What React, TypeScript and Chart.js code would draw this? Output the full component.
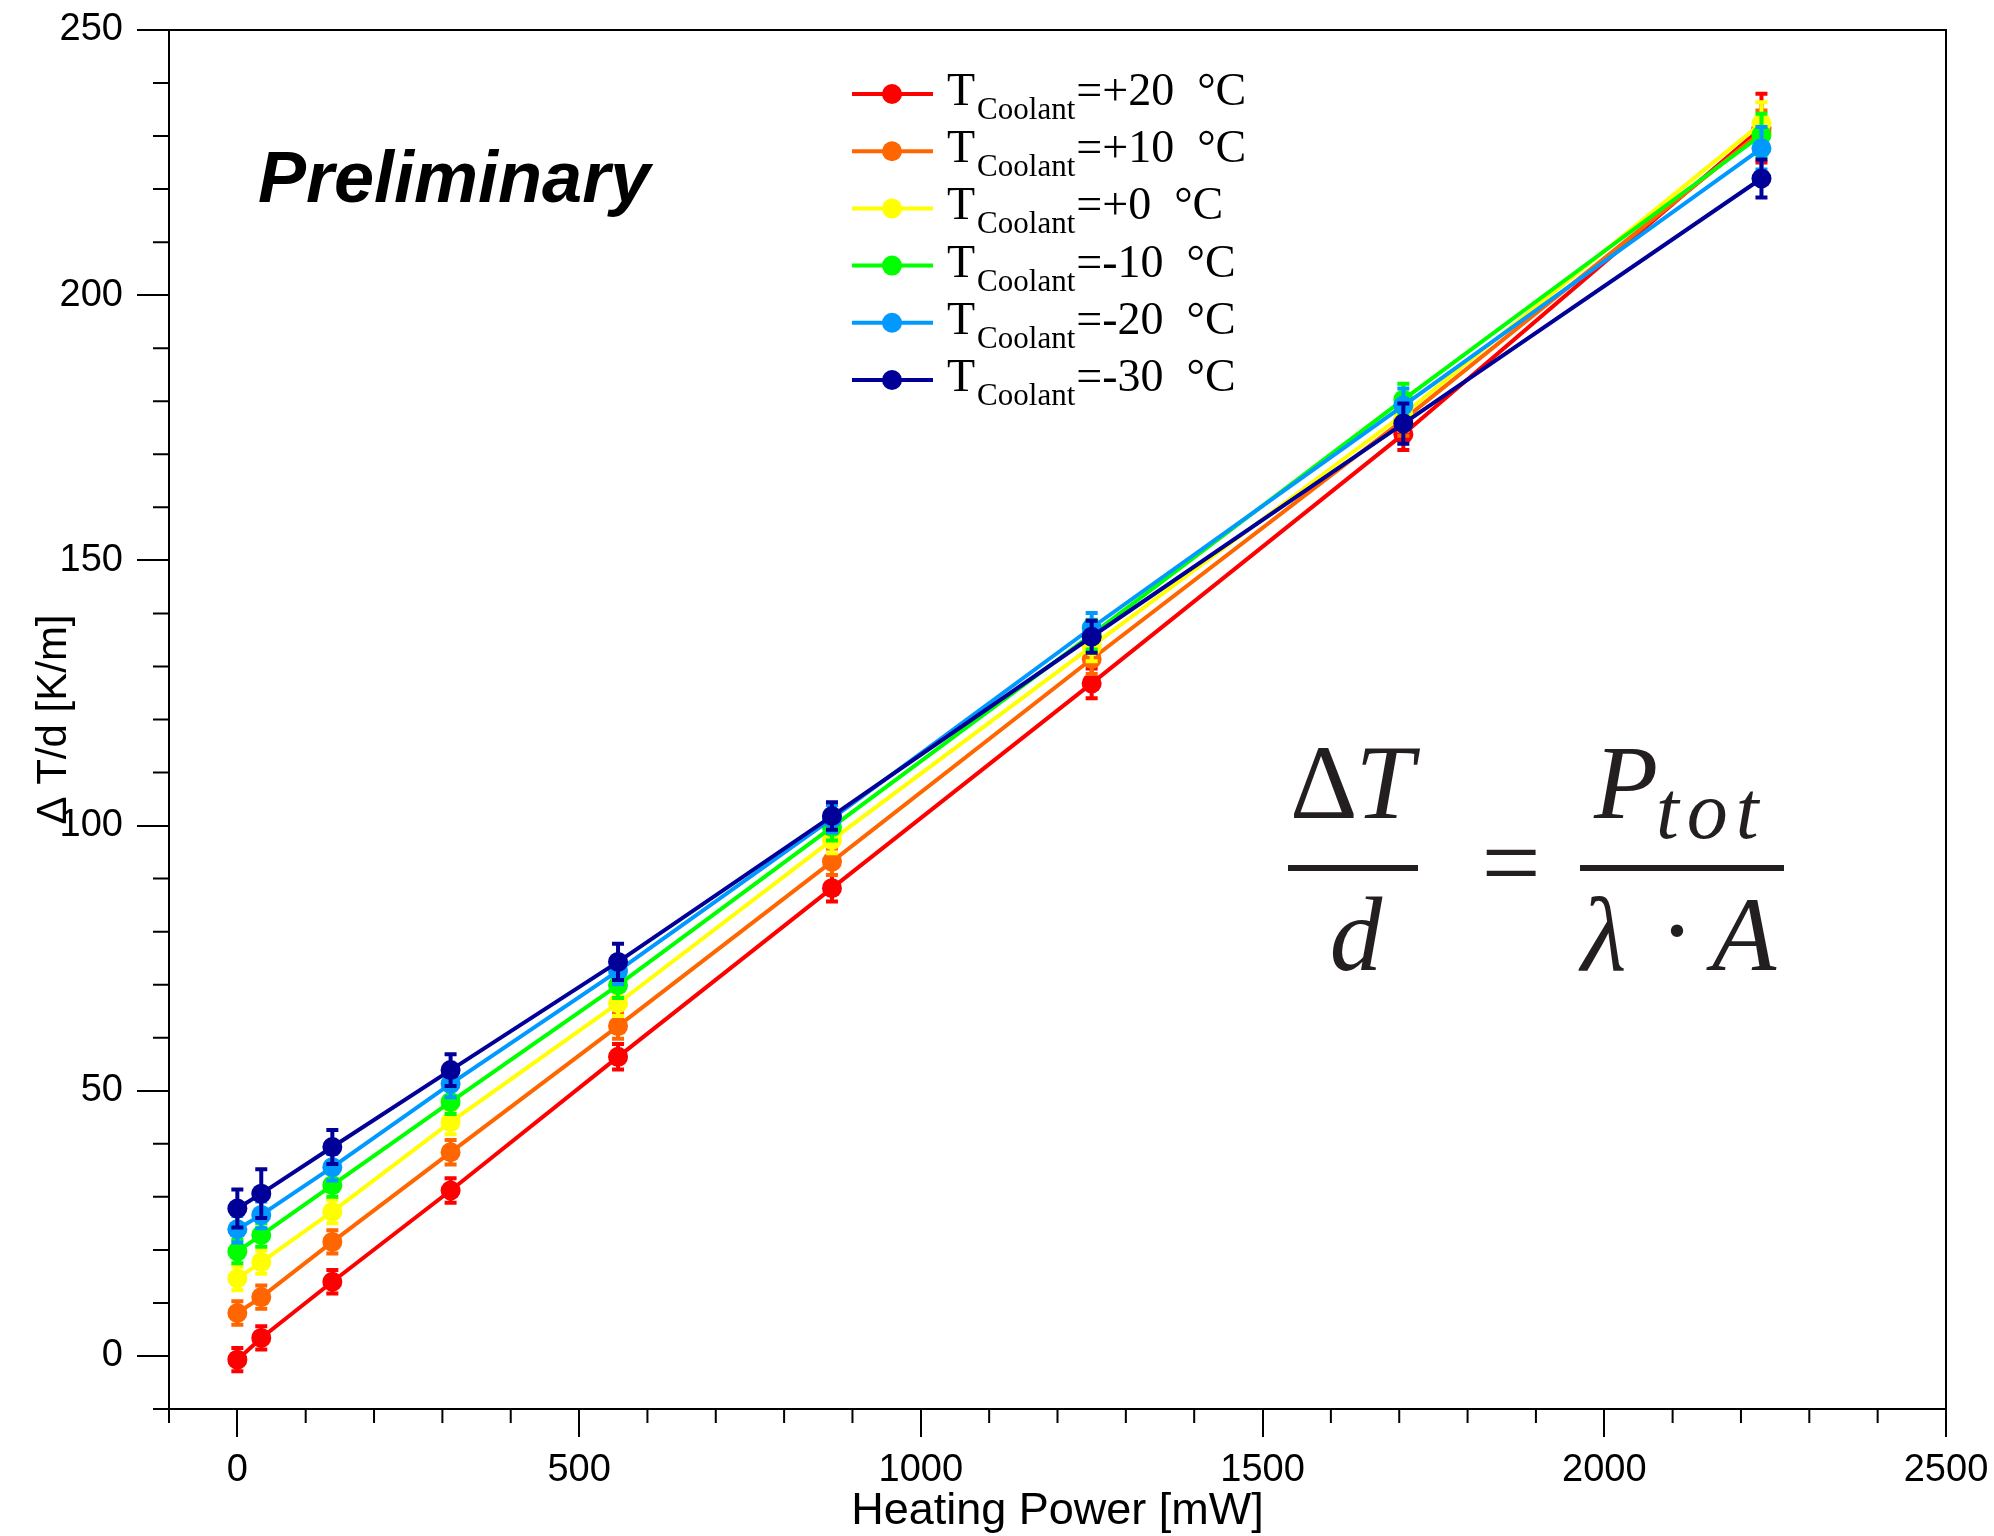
import React, { useEffect, useRef } from 'react';
import { Chart, registerables } from 'chart.js';

Chart.register(...registerables);

// ---------- data ----------
const heatingPower = [0, 35, 139, 312, 557, 870, 1250, 1706, 2230];

const coolantLabels = ['+20', '+10', '+0', '-10', '-20', '-30'];
const seriesColors = ['#ff0000', '#ff6600', '#ffff00', '#00ff00', '#0099ff', '#000099'];

const gradRed = [-0.7, 3.4, 14.0, 31.2, 56.4, 88.2, 126.8, 173.8, 231.5];
const gradOrange = [8.1, 11.1, 21.5, 38.4, 62.2, 93.2, 131.4, 176.5, 230.8];
const gradYellow = [14.6, 17.7, 27.2, 44.1, 66.5, 97.3, 133.8, 177.5, 232.4];
const gradGreen = [19.7, 22.8, 32.2, 47.9, 69.9, 99.7, 136.0, 180.3, 230.2];
const gradLightBlue = [23.9, 26.6, 35.6, 51.3, 72.6, 101.3, 137.3, 179.2, 227.7];
const gradDarkBlue = [27.8, 30.6, 39.4, 53.9, 74.3, 101.8, 135.6, 175.8, 222.0];

const errRed = [2.2, 2.2, 2.2, 2.3, 2.4, 2.5, 2.8, 3.0, 6.5];
const errOrange = [2.2, 2.2, 2.2, 2.3, 2.4, 2.5, 2.8, 3.0, 4.0];
const errYellow = [2.2, 2.2, 2.2, 2.3, 2.4, 2.5, 2.8, 3.0, 4.0];
const errGreen = [2.2, 2.2, 2.2, 2.3, 2.4, 2.5, 2.8, 3.0, 4.0];
const errLightBlue = [2.5, 2.5, 2.5, 2.5, 2.5, 2.6, 2.8, 3.2, 4.0];
const errDarkBlue = [3.6, 4.6, 3.2, 3.0, 3.4, 2.6, 3.0, 3.8, 3.6];

const seriesValues = [gradRed, gradOrange, gradYellow, gradGreen, gradLightBlue, gradDarkBlue];
const seriesErrors = [errRed, errOrange, errYellow, errGreen, errLightBlue, errDarkBlue];

const xMajorTicks = [0, 500, 1000, 1500, 2000, 2500];
const yMajorTicks = [0, 50, 100, 150, 200, 250];

const SANS = '"Liberation Sans", Arial, Helvetica, sans-serif';
const SERIF = '"Liberation Serif", "Times New Roman", serif';

// ---------- plugins ----------
const errorBarPlugin = {
  id: 'errorBars',
  afterDatasetDraw(chart: any, args: any) {
    const i = args.index;
    const errs = seriesErrors[i];
    const vals = seriesValues[i];
    if (!errs) return;
    const xs = chart.scales.x;
    const ys = chart.scales.y;
    const ctx = chart.ctx;
    ctx.save();
    ctx.strokeStyle = seriesColors[i];
    ctx.lineWidth = 4;
    heatingPower.forEach((x, k) => {
      const px = xs.getPixelForValue(x);
      const pTop = ys.getPixelForValue(vals[k] + errs[k]);
      const pBot = ys.getPixelForValue(vals[k] - errs[k]);
      ctx.beginPath();
      ctx.moveTo(px, pTop);
      ctx.lineTo(px, pBot);
      ctx.moveTo(px - 6, pTop);
      ctx.lineTo(px + 6, pTop);
      ctx.moveTo(px - 6, pBot);
      ctx.lineTo(px + 6, pBot);
      ctx.stroke();
    });
    ctx.restore();
  },
};

const decorPlugin = {
  id: 'decor',
  afterDraw(chart: any) {
    const ctx = chart.ctx;
    const { left, right, top, bottom } = chart.chartArea;
    const xs = chart.scales.x;
    const ys = chart.scales.y;
    ctx.save();
    // frame
    ctx.strokeStyle = '#000';
    ctx.lineWidth = 2;
    ctx.strokeRect(left, top, right - left, bottom - top);
    // minor ticks
    ctx.beginPath();
    for (let v = -100; v <= 2500; v += 100) {
      if (v % 500 === 0) continue;
      const px = xs.getPixelForValue(v);
      ctx.moveTo(px, bottom);
      ctx.lineTo(px, bottom + 14);
    }
    for (let v = -10; v <= 250; v += 10) {
      if (v % 50 === 0) continue;
      const py = ys.getPixelForValue(v);
      ctx.moveTo(left, py);
      ctx.lineTo(left - 16, py);
    }
    ctx.stroke();

    // "Preliminary"
    ctx.fillStyle = '#000';
    ctx.textAlign = 'left';
    ctx.textBaseline = 'alphabetic';
    ctx.font = `italic bold 72px ${SANS}`;
    ctx.fillText('Preliminary', 258, 202);

    // legend
    const row0 = 94;
    const dy = 57.2;
    coolantLabels.forEach((lab, i) => {
      const y = row0 + i * dy;
      ctx.strokeStyle = seriesColors[i];
      ctx.lineWidth = 4;
      ctx.beginPath();
      ctx.moveTo(852, y);
      ctx.lineTo(933, y);
      ctx.stroke();
      ctx.fillStyle = seriesColors[i];
      ctx.beginPath();
      ctx.arc(892, y, 10, 0, Math.PI * 2);
      ctx.fill();
      ctx.fillStyle = '#000';
      let x = 947;
      ctx.font = `46px ${SERIF}`;
      ctx.fillText('T', x, y + 11);
      x += ctx.measureText('T').width + 2;
      ctx.font = `31px ${SERIF}`;
      ctx.fillText('Coolant', x, y + 25);
      x += ctx.measureText('Coolant').width + 1;
      ctx.font = `46px ${SERIF}`;
      ctx.fillText(`=${lab}  \u00B0C`, x, y + 11);
    });

    // formula
    const fc = '#231f20';
    ctx.fillStyle = fc;
    ctx.font = `105px ${SERIF}`;
    ctx.fillText('\u0394', 1290, 818);
    const dW = ctx.measureText('\u0394').width;
    ctx.font = `italic 105px ${SERIF}`;
    ctx.fillText('T', 1290 + dW - 2, 818);
    ctx.fillRect(1288, 865, 130, 6);
    ctx.textAlign = 'center';
    ctx.fillText('d', 1356, 970);
    ctx.font = `105px ${SERIF}`;
    ctx.fillText('=', 1511, 898);
    ctx.textAlign = 'left';
    ctx.font = `italic 105px ${SERIF}`;
    ctx.fillText('P', 1594, 818);
    ctx.font = `italic 82px ${SERIF}`;
    (ctx as any).letterSpacing = '8px';
    ctx.fillText('tot', 1656, 838);
    (ctx as any).letterSpacing = '0px';
    ctx.fillRect(1580, 865, 204, 6);
    ctx.font = `italic 105px ${SERIF}`;
    ctx.fillText('\u03BB', 1581, 970);
    ctx.font = `105px ${SERIF}`;
    ctx.textAlign = 'center';
    ctx.fillText('\u00B7', 1677, 966);
    ctx.textAlign = 'left';
    ctx.font = `italic 105px ${SERIF}`;
    ctx.fillText('A', 1712, 970);
    ctx.restore();
  },
};

export default function App() {
  const canvasRef = useRef<HTMLCanvasElement | null>(null);

  useEffect(() => {
    if (!canvasRef.current) return;
    const datasets = seriesValues.map((vals, i) => ({
      label: `T_Coolant=${coolantLabels[i]} °C`,
      data: heatingPower.map((x, k) => ({ x, y: vals[k] })),
      borderColor: seriesColors[i],
      backgroundColor: seriesColors[i],
      pointBackgroundColor: seriesColors[i],
      pointBorderWidth: 0,
      pointRadius: 10,
      borderWidth: 4,
      tension: 0,
      order: seriesValues.length - 1 - i,
    }));

    const chart = new Chart(canvasRef.current, {
      type: 'line',
      data: { datasets },
      plugins: [errorBarPlugin, decorPlugin],
      options: {
        animation: false,
        responsive: true,
        maintainAspectRatio: false,
        layout: { padding: { left: 0, top: 30, right: 48, bottom: 0 } },
        plugins: {
          legend: { display: false },
          tooltip: { enabled: false },
        },
        scales: {
          x: {
            type: 'linear',
            min: -100,
            max: 2500,
            afterBuildTicks: (s: any) => {
              s.ticks = xMajorTicks.map((v) => ({ value: v }));
            },
            afterFit: (s: any) => {
              s.height = 127;
              s.paddingLeft = 0;
              s.paddingRight = 0;
            },
            grid: { drawOnChartArea: false, drawTicks: true, tickLength: 28, color: '#000', lineWidth: 2 },
            border: { display: false },
            ticks: {
              font: { family: SANS, size: 38 },
              color: '#000',
              padding: 11,
              maxRotation: 0,
              autoSkip: false,
              callback: (v: any) => String(v),
            },
            title: {
              display: true,
              text: 'Heating Power [mW]',
              font: { family: SANS, size: 45 },
              color: '#000',
              padding: { top: 0, bottom: -3 },
            },
          },
          y: {
            type: 'linear',
            min: -10,
            max: 250,
            afterBuildTicks: (s: any) => {
              s.ticks = yMajorTicks.map((v) => ({ value: v }));
            },
            afterFit: (s: any) => {
              s.width = 169;
              s.paddingTop = 0;
              s.paddingBottom = 0;
            },
            grid: { drawOnChartArea: false, drawTicks: true, tickLength: 32, color: '#000', lineWidth: 2 },
            border: { display: false },
            ticks: {
              font: { family: SANS, size: 38 },
              color: '#000',
              padding: 14,
              autoSkip: false,
              callback: (v: any) => String(v),
            },
            title: {
              display: true,
              text: '\u0394 T/d [K/m]',
              font: { family: SANS, size: 42 },
              color: '#000',
              padding: { top: 29, bottom: 0 },
            },
          },
        },
      },
    } as any);
    return () => chart.destroy();
  }, []);

  return (
    <div style={{ position: 'fixed', left: 0, top: 0, width: 1994, height: 1536, background: '#fff' }}>
      <canvas ref={canvasRef} />
    </div>
  );
}
